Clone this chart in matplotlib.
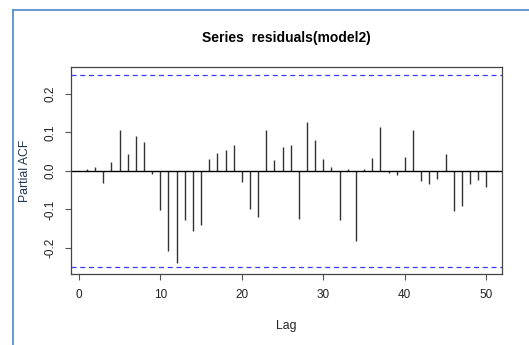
import numpy as np
import matplotlib
matplotlib.use("Agg")
import matplotlib.pyplot as plt
from matplotlib.lines import Line2D

plt.rcParams['font.family'] = ['Liberation Sans', 'DejaVu Sans']

# partial autocorrelations of residuals(model2), lags 1..50
lags = np.arange(1, 51)
pacf_vals = [
    0.004, 0.010, -0.031, 0.024, 0.106, 0.044, 0.090, 0.075, -0.007, -0.102,
    -0.209, -0.238, -0.127, -0.155, -0.141, 0.030, 0.047, 0.055, 0.066, -0.030,
    -0.100, -0.119, 0.106, 0.028, 0.063, 0.066, -0.124, 0.127, 0.079, 0.030,
    0.009, -0.128, 0.004, -0.181, 0.004, 0.034, 0.113, -0.005, -0.011, 0.036,
    0.106, -0.026, -0.035, -0.022, 0.043, -0.105, -0.091, -0.035, -0.023, -0.043,
]
clim = 0.2487
xticks = [0, 10, 20, 30, 40, 50]
yticks = [-0.2, -0.1, 0.0, 0.1, 0.2]

fig = plt.figure(figsize=(5.29, 3.45), dpi=100)
ax = fig.add_axes([0.1342, 0.2049, 0.8153, 0.6000])

ax.vlines(lags, 0, pacf_vals, color='#333333', lw=1.0)
ax.axhline(0, color='black', lw=1.0)
ax.axhline(clim, color='#3b3bff', lw=0.9, ls=(0, (4, 3)))
ax.axhline(-clim, color='#3b3bff', lw=0.9, ls=(0, (4, 3)))

ax.set_xlim(-0.96, 51.96)
ax.set_ylim(-0.2686, 0.2686)
ax.set_xticks(xticks)
ax.set_yticks(yticks)
ax.set_yticklabels([f"{v:.1f}" for v in yticks], rotation=90, va='center')
ax.tick_params(axis='both', length=4.3, width=0.8, color='#555555',
               labelsize=8.5, labelcolor='#222222', pad=6)
for s in ax.spines.values():
    s.set_color('#444444')
    s.set_linewidth(0.9)

ax.set_xlabel('Lag', fontsize=8.8, color='#222222', labelpad=14)
ax.set_ylabel('Partial ACF', fontsize=8.8, color='#1f3550', labelpad=10)
ax.set_title('Series  residuals(model2)', fontsize=10, fontweight='bold', pad=18)

# frame of the surrounding window (left and top blue border)
bx, by = 12.7 / 529, 1 - 9.5 / 345
fig.add_artist(Line2D([bx, 1.0], [by, by], transform=fig.transFigure,
                      color='#5b8fd0', lw=1.3))
fig.add_artist(Line2D([bx, bx], [0.0, by], transform=fig.transFigure,
                      color='#5b8fd0', lw=1.3))

fig.savefig('out.png', dpi=100)
